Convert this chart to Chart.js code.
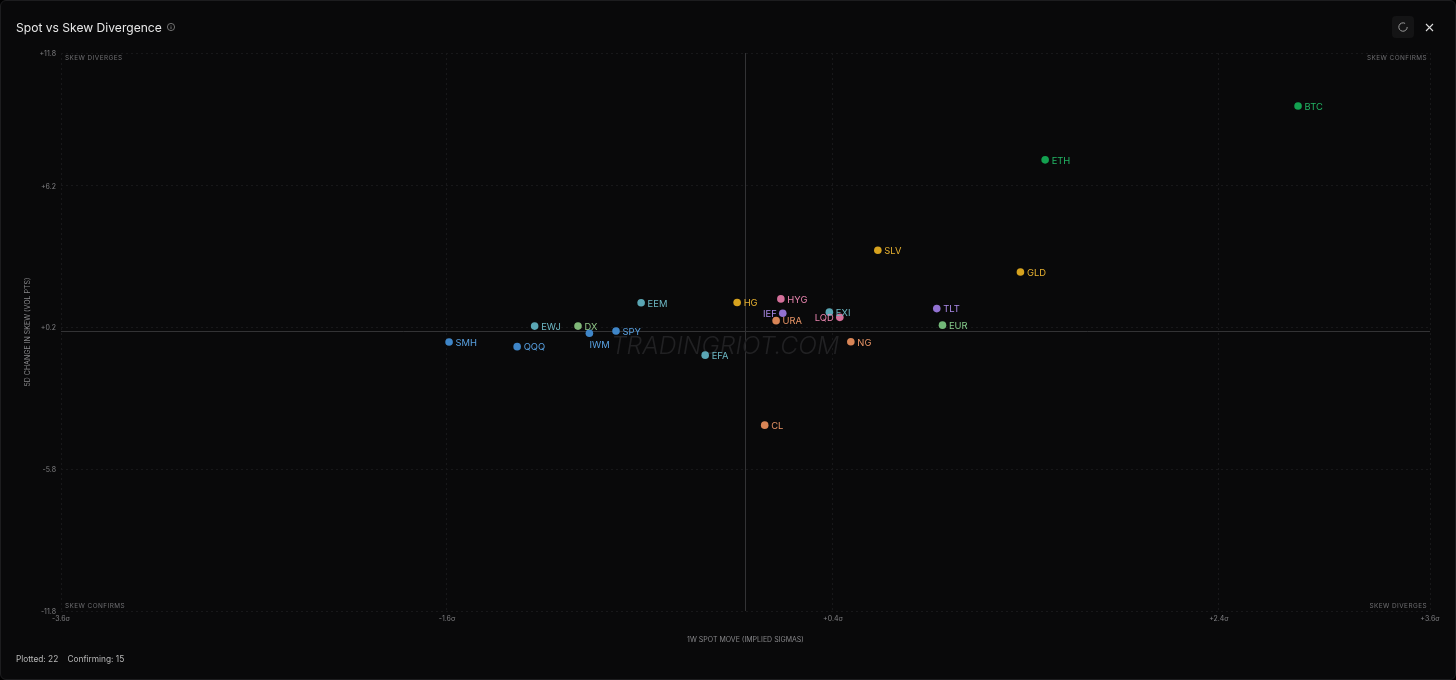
<!DOCTYPE html>
<html>
<head>
<meta charset="utf-8">
<title>Spot vs Skew Divergence</title>
<script src="https://cdn.jsdelivr.net/npm/chart.js@4"></script>
<style>
  html,body{margin:0;padding:0;background:#000;width:1456px;height:680px;overflow:hidden;font-family:Inter,"Noto Sans",sans-serif}
  #panel{position:absolute;left:0;top:0;width:1454px;height:678px;background:#09090a;border:1px solid #1d1d1f;border-radius:6px}
  #wrap{position:absolute;left:-1px;top:-1px;width:1456px;height:680px}
  #title{position:absolute;left:15px;top:18px;color:#e8e8e8;font-size:12.1px;line-height:17px}
  #info{position:absolute;left:165px;top:21px}
  #refresh{position:absolute;left:1391px;top:15px;width:22px;height:22px;background:#141415;border-radius:4px}
  #close{position:absolute;left:1423px;top:21px}
  #foot{position:absolute;left:15px;top:652px;color:#b8b8b8;font-size:8.3px;line-height:12px;white-space:pre}
</style>
</head>
<body>
<div id="panel">
  <div id="wrap"><canvas id="c" width="1456" height="680"></canvas></div>
  <div id="title">Spot vs Skew Divergence</div>
  <svg id="info" width="10" height="10" viewBox="0 0 10 10"><circle cx="5" cy="5" r="3.6" fill="none" stroke="#8a8a8a" stroke-width=".8"/><path d="M5 4.4V7M5 3V3.5" stroke="#8a8a8a" stroke-width=".8"/></svg>
  <div id="refresh"><svg width="22" height="22" viewBox="0 0 22 22"><path d="M15.2 11a4.2 4.2 0 1 1-2.1-3.6" fill="none" stroke="#9a9a9a" stroke-width="1"/></svg></div>
  <svg id="close" width="11" height="11" viewBox="0 0 11 11"><path d="M2 2L9 9M9 2L2 9" stroke="#dcdcdc" stroke-width="1.1"/></svg>
  <div id="foot">Plotted: 22    Confirming: 15</div>
</div>
<script>
const tickers = ["BTC","ETH","SLV","GLD","EEM","HG","HYG","TLT","EXI","IEF","LQD","URA","EUR","EWJ","DX","SPY","IWM","SMH","QQQ","EFA","NG","CL"];
const spotMove = [2.906,1.576,0.696,1.446,-0.549,-0.044,0.186,1.006,0.441,0.196,0.496,0.161,1.036,-1.109,-0.881,-0.681,-0.821,-1.559,-1.201,-0.212,0.554,0.101];
const skewChange = [9.56,7.28,3.46,2.54,1.24,1.25,1.4,0.99,0.84,0.79,0.62,0.48,0.29,0.25,0.25,0.04,-0.05,-0.42,-0.62,-0.98,-0.41,-3.94];
const dotColors = ["#13a150","#13a150","#d6a21e","#d6a21e","#5aa6b4","#d6a21e","#d4709a","#9272d2","#5aa6b4","#9272d2","#d4709a","#d98556","#72b878","#5aa6b4","#80b878","#3f86c8","#3f86c8","#3f86c8","#3f86c8","#5aa6b4","#d98556","#d98556"];
const labelColors = ["#22b565","#22b565","#e6b030","#e6b030","#6db8c4","#e6b030","#e884ae","#ab8ae8","#6db8c4","#ab8ae8","#e884ae","#e89466","#84ca8a","#6db8c4","#90c888","#58a0e0","#58a0e0","#58a0e0","#58a0e0","#6db8c4","#e89466","#e89466"];
const labelsLeft = ["IEF","LQD"];
const labelsBelow = ["IWM"];
const xTickValues = [-3.6,-1.57,0.46,2.49,3.6];
const xTickLabels = ["-3.6σ","-1.6σ","+0.4σ","+2.4σ","+3.6σ"];
const yTickValues = [11.8,6.2,0.2,-5.8,-11.8];
const yTickLabels = ["+11.8","+6.2","+0.2","-5.8","-11.8"];
const cornerLabels = ["SKEW DIVERGES","SKEW CONFIRMS","SKEW CONFIRMS","SKEW DIVERGES"];
const watermark = "TRADINGRIOT.COM";

const overlay = {
  id:"overlay",
  beforeDatasetsDraw(chart){
    const {ctx,chartArea:a,scales:{x,y}} = chart;
    ctx.save();
    ctx.strokeStyle="#333335"; ctx.lineWidth=1;
    ctx.beginPath();
    const x0=Math.round(x.getPixelForValue(0))-.5, y0=Math.round(y.getPixelForValue(0))-.5;
    ctx.moveTo(x0,a.top); ctx.lineTo(x0,a.bottom);
    ctx.moveTo(a.left,y0); ctx.lineTo(a.right,y0);
    ctx.stroke();
    ctx.font='italic 300 24.6px Inter,sans-serif';
    ctx.fillStyle="#212123"; ctx.textAlign="center"; ctx.textBaseline="middle";
    ctx.fillText(watermark,(a.left+a.right)/2-20.5,347);
    ctx.font='6.4px Inter,sans-serif'; ctx.letterSpacing='.45px';
    ctx.fillStyle="#6f6f72";
    ctx.textAlign="left";
    ctx.fillText(cornerLabels[0],a.left+4,a.top+5);
    ctx.fillText(cornerLabels[2],a.left+4,a.bottom-5);
    ctx.textAlign="right";
    ctx.fillText(cornerLabels[1],a.right-3,a.top+5);
    ctx.fillText(cornerLabels[3],a.right-3,a.bottom-5);
    ctx.restore();
  },
  afterDatasetsDraw(chart){
    const {ctx} = chart, pts = chart.getDatasetMeta(0).data;
    ctx.save();
    ctx.font='9.4px Inter,sans-serif'; ctx.textBaseline="middle";
    pts.forEach((p,i)=>{
      const t=tickers[i]; ctx.fillStyle=labelColors[i];
      if(labelsLeft.includes(t)){ctx.textAlign="right";ctx.fillText(t,p.x-6,p.y+1);}
      else if(labelsBelow.includes(t)){ctx.textAlign="left";ctx.fillText(t,p.x,p.y+11.5);}
      else{ctx.textAlign="left";ctx.fillText(t,p.x+6.5,p.y+1);}
    });
    ctx.restore();
  }
};

new Chart(document.getElementById("c"),{
  type:"scatter",
  data:{datasets:[{
    data:tickers.map((t,i)=>({x:spotMove[i],y:skewChange[i]})),
    pointBackgroundColor:dotColors,
    pointBorderWidth:0,
    pointRadius:3.8,
    pointHoverRadius:3.8
  }]},
  plugins:[overlay],
  options:{
    responsive:false,animation:false,devicePixelRatio:1,
    layout:{padding:{top:53,right:26,left:0,bottom:0}},
    plugins:{legend:{display:false},tooltip:{enabled:false},title:{display:false}},
    scales:{
      x:{
        type:"linear",min:-3.6,max:3.6,
        afterBuildTicks(s){s.ticks=xTickValues.map(v=>({value:v}));},
        afterFit(s){s.height=69;},
        grid:{color:"#18181a",lineWidth:1,drawTicks:false},
        border:{display:false,dash:[2,3]},
        ticks:{autoSkip:false,maxRotation:0,padding:4,color:"#808083",font:{size:7,family:"Inter"},
          callback(v,i){return xTickLabels[i];}},
        title:{display:true,text:"1W SPOT MOVE (IMPLIED SIGMAS)",color:"#87878a",font:{size:7,family:"Inter"},padding:{top:12,bottom:36}}
      },
      y:{
        type:"linear",min:-11.8,max:11.8,
        afterBuildTicks(s){s.ticks=yTickValues.map(v=>({value:v}));},
        afterFit(s){s.width=61;},
        grid:{color:"#18181a",lineWidth:1,drawTicks:false},
        border:{display:false,dash:[2,3]},
        ticks:{autoSkip:false,padding:5,labelOffset:1,color:"#808083",font:{size:7,family:"Inter"},
          callback(v,i){return yTickLabels[i];}},
        title:{display:true,text:"5D CHANGE IN SKEW (VOL PTS)",color:"#87878a",font:{size:7,family:"Inter"},padding:{top:24,bottom:0}}
      }
    }
  }
});
</script>
</body>
</html>
